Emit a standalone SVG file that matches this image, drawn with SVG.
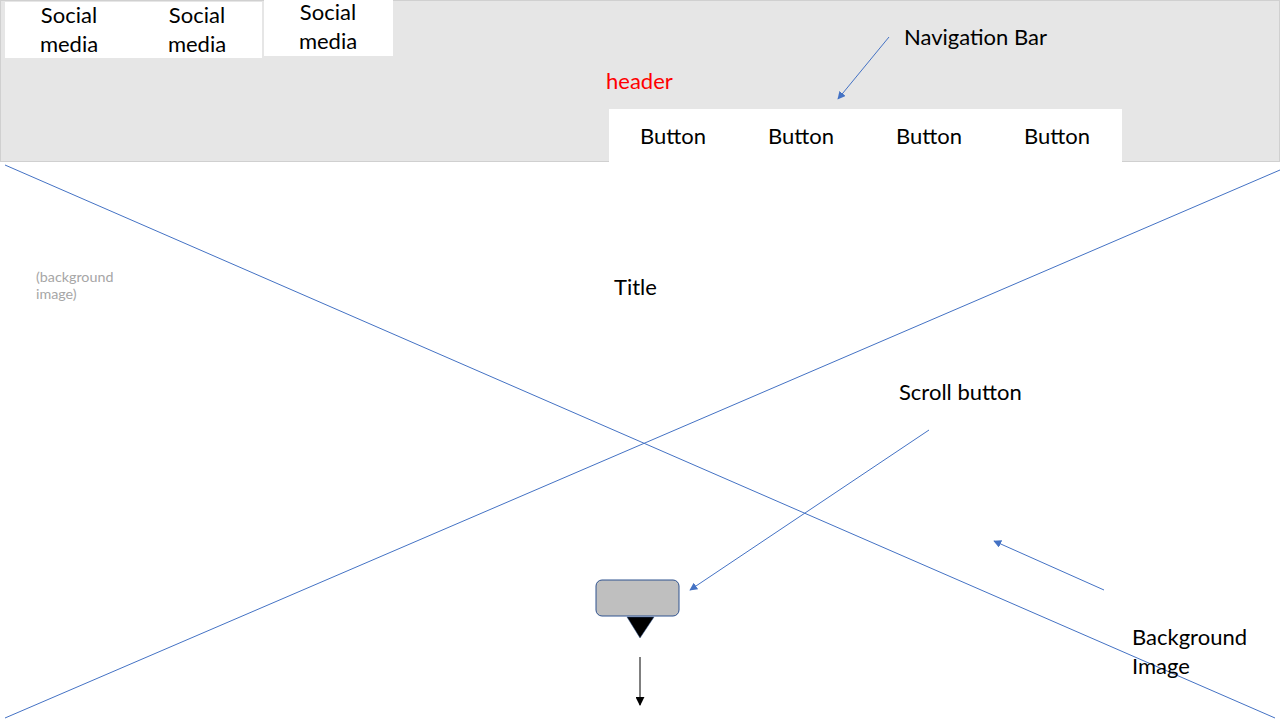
<svg xmlns="http://www.w3.org/2000/svg" width="1280" height="720" viewBox="0 0 1280 720">
<defs>
<style>
text{font-family:Lato,"Liberation Sans",sans-serif;fill:#000}
.t{font-size:22px}
.sm{font-size:22px;text-anchor:middle}
.bg{font-size:14.3px;fill:#a6a6a6}
.blue{stroke:#4472c4;stroke-width:1;fill:none}
</style>
<marker id="ab" viewBox="0 0 10 10" refX="9" refY="5" markerWidth="8" markerHeight="8" markerUnits="userSpaceOnUse" orient="auto"><path d="M0,0 L10,5 L0,10 z" fill="#4472c4"/></marker>
<marker id="ak" viewBox="0 0 10 10" refX="9" refY="5" markerWidth="9" markerHeight="9" markerUnits="userSpaceOnUse" orient="auto"><path d="M0,0 L10,5 L0,10 z" fill="#000"/></marker>
</defs>
<rect width="1280" height="720" fill="#fff"/>
<g id="header">
<rect x="0.5" y="0.5" width="1279" height="161" fill="#e6e6e6" stroke="#d0d0d0"/>
<text x="606" y="89" class="t" style="fill:#ff0000">header</text>
</g>
<g id="social1"><rect x="5" y="2" width="128" height="56" fill="#fff"/><text class="sm" x="69" y="23">Social</text><text class="sm" x="69" y="52">media</text></g>
<g id="social2"><rect x="133" y="2" width="129" height="56" fill="#fff"/><text class="sm" x="197" y="23">Social</text><text class="sm" x="197" y="52">media</text></g>
<g id="social3"><rect x="264" y="0" width="129" height="56" fill="#fff"/><text class="sm" x="328" y="20">Social</text><text class="sm" x="328" y="49">media</text></g>
<g id="navbar">
<rect x="609" y="109" width="513" height="53" fill="#fff"/>
<text class="sm" x="673" y="144">Button</text>
<text class="sm" x="801" y="144">Button</text>
<text class="sm" x="929" y="144">Button</text>
<text class="sm" x="1057" y="144">Button</text>
</g>
<g id="connectors">
<line class="blue" x1="5" y1="165" x2="1275" y2="718"/>
<line class="blue" x1="5" y1="718" x2="1280" y2="170"/>
<line class="blue" x1="889" y1="37" x2="838" y2="99" marker-end="url(#ab)"/>
<line class="blue" x1="929" y1="430" x2="690" y2="590" marker-end="url(#ab)"/>
<line class="blue" x1="1104" y1="590" x2="994" y2="541" marker-end="url(#ab)"/>
<line x1="640" y1="657" x2="640" y2="705" stroke="#000" stroke-width="1" marker-end="url(#ak)"/>
</g>
<g id="labels">
<text x="904" y="45" class="t">Navigation Bar</text>
<text x="36" y="282" class="bg">(background</text>
<text x="36" y="299" class="bg">image)</text>
<text x="614" y="295" class="t">Title</text>
<text x="899" y="400" class="t">Scroll button</text>
<text x="1132" y="645" class="t">Background</text>
<text x="1132" y="674" class="t">Image</text>
</g>
<g id="scroll-button">
<rect x="596" y="580" width="83" height="36" rx="6" fill="#bfbfbf" stroke="#2f528f" stroke-width="1"/>
<polygon points="627,617 654,617 640,638" fill="#000" stroke="#2f528f" stroke-width="0.5"/>
</g>
</svg>
